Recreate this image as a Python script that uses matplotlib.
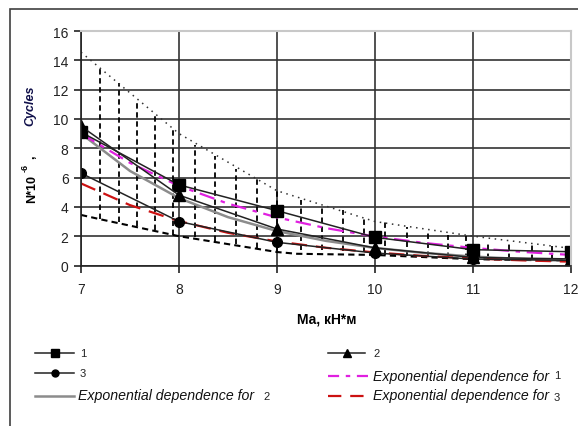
import matplotlib
matplotlib.use('Agg')
import matplotlib.pyplot as plt
from matplotlib.lines import Line2D
from matplotlib.patches import Rectangle

plt.rcParams['font.family'] = ['Liberation Sans', 'DejaVu Sans']

# данные
ma = [7, 8, 9, 10, 11, 12]
n1 = [9.1, 5.5, 3.74, 1.92, 1.08, 0.94]
n2 = [9.5, 4.8, 2.49, 1.2, 0.55, 0.45]
n3 = [6.3, 3.0, 1.58, 0.85, 0.44, 0.35]

# экспоненциальные зависимости
ma_fit = [7, 7.5, 8, 8.5, 9, 9.5, 10, 10.5, 11, 11.5, 12]
fit1 = [9.0, 7.0, 5.43, 4.22, 3.28, 2.55, 1.98, 1.54, 1.2, 0.93, 0.72]
fit2 = [9.0, 6.45, 4.6, 3.3, 2.35, 1.68, 1.2, 0.86, 0.61, 0.44, 0.31]
fit3 = [5.6, 4.12, 3.03, 2.23, 1.64, 1.21, 0.89, 0.65, 0.48, 0.35, 0.26]

# границы
ma_up = [7, 8, 9, 10, 11, 12]
upper = [14.55, 9.0, 5.1, 3.0, 2.0, 1.17]
ma_low = [7, 7.2, 8, 9, 9.2, 10, 11, 12]
lower = [3.45, 3.15, 2.0, 0.92, 0.8, 0.72, 0.43, 0.33]

# вертикальные штрихи
ma_v = [7.19, 7.39, 7.57, 7.76, 7.94, 8.16, 8.37, 8.58, 8.80, 9.0, 9.24, 9.46,
        9.67, 9.89, 10.10, 10.33, 10.54, 10.75, 10.93, 11.15, 11.37, 11.6, 11.81]
v_top = [13.5, 12.45, 11.3, 10.27, 9.25, 8.2, 7.5, 6.6, 5.9, 5.1, 4.49, 4.13,
         3.81, 3.29, 2.99, 2.65, 2.27, 2.08, 1.99, 1.69, 1.58, 1.47, 1.35]
v_bot = [3.2, 2.95, 2.7, 2.45, 2.1, 1.95, 1.65, 1.45, 1.2, 1.0, 1.08, 1.05,
         1.0, 0.95, 0.75, 0.65, 0.55, 0.5, 0.47, 0.45, 0.42, 0.4, 0.38]

fig = plt.figure(figsize=(5.78, 4.27), dpi=100)
ax = fig.add_axes([81/578, 1-266.5/427, 490/578, 234.5/427])

# рамка вокруг рисунка
fig.add_artist(Rectangle((10/578, -0.05), 1.2, 1.05-9.5/427, transform=fig.transFigure,
                         fill=False, edgecolor='#404040', lw=1.2))

ax.set_xlim(7, 12)
ax.set_ylim(0, 16)
ax.set_xticks(ma)
ax.set_yticks(range(0, 17, 2))
ax.grid(True, color='#333333', lw=1.2)
ax.set_axisbelow(True)
for s in ['top', 'right']:
    ax.spines[s].set_color('#c8c8c8')
    ax.spines[s].set_linewidth(1.5)
for s in ['left', 'bottom']:
    ax.spines[s].set_color('#222222')
    ax.spines[s].set_linewidth(1.2)
ax.tick_params(axis='both', labelsize=10, colors='#222222', length=5, width=1.2)
ax.tick_params(axis='x', pad=7)
ax.tick_params(axis='y', pad=4)

ax.vlines(ma_v, v_bot, v_top, colors='black', linestyles=(0, (3, 2)), lw=1.3)
ax.plot(ma_up, upper, color='#333333', ls=(0, (1, 3)), lw=1.1)
ax.plot(ma_low, lower, color='black', ls=(0, (3, 2)), lw=1.5)

ax.plot(ma_fit, fit2, color='#8c8c8c', lw=1.8)
ax.plot(ma_fit, fit1, color='#e020e0', ls=(0, (7, 3, 2, 3)), lw=1.6)
ax.plot(ma_fit, fit3, color='#cc1111', ls=(0, (7, 4)), lw=1.6)

ax.plot(ma, n1, color='#222222', lw=1.1, marker='s', ms=8, mfc='black', mec='black')
ax.plot(ma, n2, color='#222222', lw=1.1, marker='^', ms=8, mfc='black', mec='black')
ax.plot(ma, n3, color='#222222', lw=1.1, marker='o', ms=7, mfc='black', mec='black')

# подписи осей
fig.text(327/578, 1-320/427, 'Ма, кН*м', ha='center', va='center', fontsize=10, fontweight='bold')
fig.text(32/578, 1-189.5/427, 'N*10', rotation=90, ha='center', va='center', fontsize=9, fontweight='bold')
fig.text(25/578, 1-168/427, '-6', rotation=90, ha='center', va='center', fontsize=6.5, fontweight='bold')
fig.text(31/578, 1-157/427, ',', rotation=90, ha='center', va='center', fontsize=9, fontweight='bold')
fig.text(30/578, 1-106/427, 'Cycles', rotation=90, ha='center', va='center', fontsize=9,
         fontweight='bold', style='italic', color='#10104a')

# легенда
def leg_line(x0, x1, y, **kw):
    fig.add_artist(Line2D([x0/578, x1/578], [1-y/427, 1-y/427], transform=fig.transFigure, **kw))

def leg_marker(x, y, m, ms):
    fig.add_artist(Line2D([x/578], [1-y/427], transform=fig.transFigure, marker=m, ms=ms,
                          color='black', ls='none'))

leg_line(35, 74, 354, color='#222222', lw=1.1)
leg_marker(54.5, 354, 's', 6)
fig.text(80/578, 1-354/427, '1', va='center', fontsize=8, color='#222222')
leg_line(35, 74, 374, color='#222222', lw=1.1)
leg_marker(54.5, 374, 'o', 5)
fig.text(80/578, 1-374/427, '3', va='center', fontsize=8, color='#222222')
leg_line(35, 74, 397, color='#8c8c8c', lw=1.8)
fig.text(77.5/578, 1-396/427, 'Exponential dependence for', va='center', fontsize=10.2, style='italic', color='#111111')
fig.text(263/578, 1-397/427, '2', va='center', fontsize=8, color='#222222')

leg_line(328, 365, 354, color='#222222', lw=1.1)
leg_marker(346.5, 354, '^', 6)
fig.text(373/578, 1-354/427, '2', va='center', fontsize=8, color='#222222')
leg_line(328, 368, 377, color='#e020e0', ls=(0, (5, 3, 2, 3)), lw=1.6)
fig.text(373/578, 1-377/427, 'Exponential dependence for', va='center', fontsize=10.2, style='italic', color='#111111')
fig.text(554/578, 1-376/427, '1', va='center', fontsize=8, color='#222222')
leg_line(328, 368, 397, color='#cc1111', ls=(0, (6, 4)), lw=1.6)
fig.text(373/578, 1-396/427, 'Exponential dependence for', va='center', fontsize=10.2, style='italic', color='#111111')
fig.text(554/578, 1-398/427, '3', va='center', fontsize=8, color='#222222')

fig.savefig('out.png', dpi=100)
